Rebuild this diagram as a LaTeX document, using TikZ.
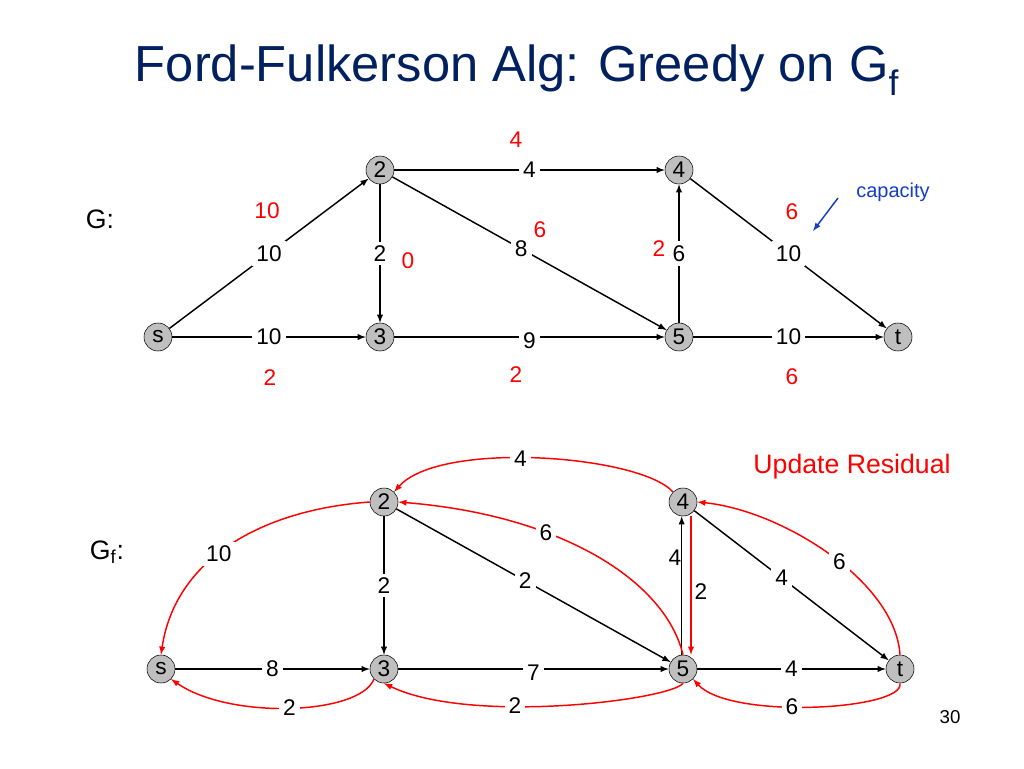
\documentclass[tikz,border=0pt]{standalone}
\usepackage{fontspec}
\setmainfont{Liberation Sans}
\begin{document}
\begin{tikzpicture}[x=0.75pt,y=-0.75pt,>=latex,
  vtx/.style={circle,draw,fill=black!25,minimum size=21pt,inner sep=0pt,font=\fontsize{17}{17}\selectfont},
  lbl/.style={fill=white,text=black,inner sep=3pt,font=\fontsize{17}{17}\selectfont},
  rl/.style={text=red,font=\fontsize{17}{17}\selectfont},
  ed/.style={->,line width=1.1pt},
  re/.style={->,red,line width=1.1pt}]
\useasboundingbox (0,0) rectangle (1024,768);
\node[text={rgb,255:red,0;green,32;blue,96},font=\fontsize{38}{38}\selectfont] (title) at (517,70) {Ford-Fulkerson Alg: Greedy on G\textsubscript{f}};
\node[font=\fontsize{20}{20}\selectfont] (G) at (100,219) {G:};
\node[font=\fontsize{20}{20}\selectfont] (Gf) at (107,552) {G\textsubscript{f}:};
\node[font=\fontsize{14}{14}\selectfont] (pg) at (950,717) {30};
% top graph
\node[vtx] (s) at (158,337) {s};
\node[vtx] (n2) at (380,170) {2};
\node[vtx] (n3) at (380,337) {3};
\node[vtx] (n4) at (679,170) {4};
\node[vtx] (n5) at (679,337) {5};
\node[vtx] (t) at (898,337) {t};
\draw[ed] (n2) -- node[lbl]{4} (n4);
\draw[ed] (s) -- node[lbl,pos=0.5]{10} (n2);
\draw[ed] (n2) -- node[lbl,pos=0.5]{2} (n3);
\draw[ed] (n2) -- node[lbl,pos=0.47]{8} (n5);
\draw[ed] (n5) -- node[lbl]{6} (n4);
\draw[ed] (n4) -- node[lbl,pos=0.5]{10} (t);
\draw[ed] (s) -- node[lbl]{10} (n3);
\draw[ed] (n3) -- node[lbl,yshift=-3pt]{9} (n5);
\draw[ed] (n5) -- node[lbl]{10} (t);
\node[rl] (r1) at (516,140) {4};
\node[rl] (r2) at (267,211) {10};
\node[rl] (r3) at (408,261) {0};
\node[rl] (r4) at (540,230) {6};
\node[rl] (r5) at (659,249) {2};
\node[rl] (r6) at (792,212) {6};
\node[rl] (r7) at (270,378) {2};
\node[rl] (r8) at (516,375) {2};
\node[rl] (r9) at (792,377) {6};
\node[text={rgb,255:red,20;green,60;blue,200},font=\fontsize{15}{15}\selectfont] (cap) at (893,192) {capacity};
\coordinate (ca) at (838,198);
\coordinate (cb) at (813,231);
\draw[->,line width=1.1pt,color={rgb,255:red,20;green,60;blue,200}] (ca) -- (cb);
% bottom graph
\node[vtx] (bs) at (161,669) {s};
\node[vtx] (b2) at (384,502) {2};
\node[vtx] (b3) at (384,669) {3};
\node[vtx] (b4) at (683,502) {4};
\node[vtx] (b5) at (683,669) {5};
\node[vtx] (bt) at (900,669) {t};
\draw[ed] (b2) -- node[lbl]{2} (b3);
\draw[ed] (b2) -- node[lbl,pos=0.47]{2} (b5);
\draw[ed] (bs) -- node[lbl]{8} (b3);
\draw[ed] (b3) -- node[lbl,yshift=-3pt]{7} (b5);
\draw[ed] (b4) -- node[lbl,pos=0.45]{4} (bt);
\draw[ed] (b5) -- node[lbl]{4} (bt);
\draw[ed] ([xshift=-1pt]b5.north) -- ([xshift=-1pt]b4.south);
\draw[re] ([xshift=6pt]b4.south) -- ([xshift=6pt]b5.north);
\node[lbl,fill=none] (l54) at (675,558) {4};
\node[lbl,fill=none] (l45) at (701,592) {2};
% red residual curves
\draw[re] (b4.north west) .. controls (640,455) and (440,440) .. node[lbl,pos=0.55]{4} (b2.north east);
\draw[re] (b5.north) .. controls (665,580) and (560,515) .. node[lbl,pos=0.65]{6} (b2.east);
\draw[re] (b2.west) .. controls (260,510) and (175,560) .. node[lbl,pos=0.55]{10} (bs.north);
\draw[re] (b3.south west) .. controls (360,715) and (230,720) .. node[lbl,pos=0.5]{2} (bs.south east);
\draw[re] (b5.south) .. controls (670,700) and (470,725) .. node[lbl,pos=0.62]{2} (b3.south);
\draw[re] (bt.south) .. controls (905,710) and (730,720) .. node[lbl,pos=0.57]{6} (b5.south east);
\draw[re] (bt.north) .. controls (895,580) and (780,510) .. node[lbl,pos=0.45]{6} (b4.east);
\node[text=red,font=\fontsize{20}{20}\selectfont] (ur) at (852,467) {Update Residual};
\end{tikzpicture}
\end{document}
